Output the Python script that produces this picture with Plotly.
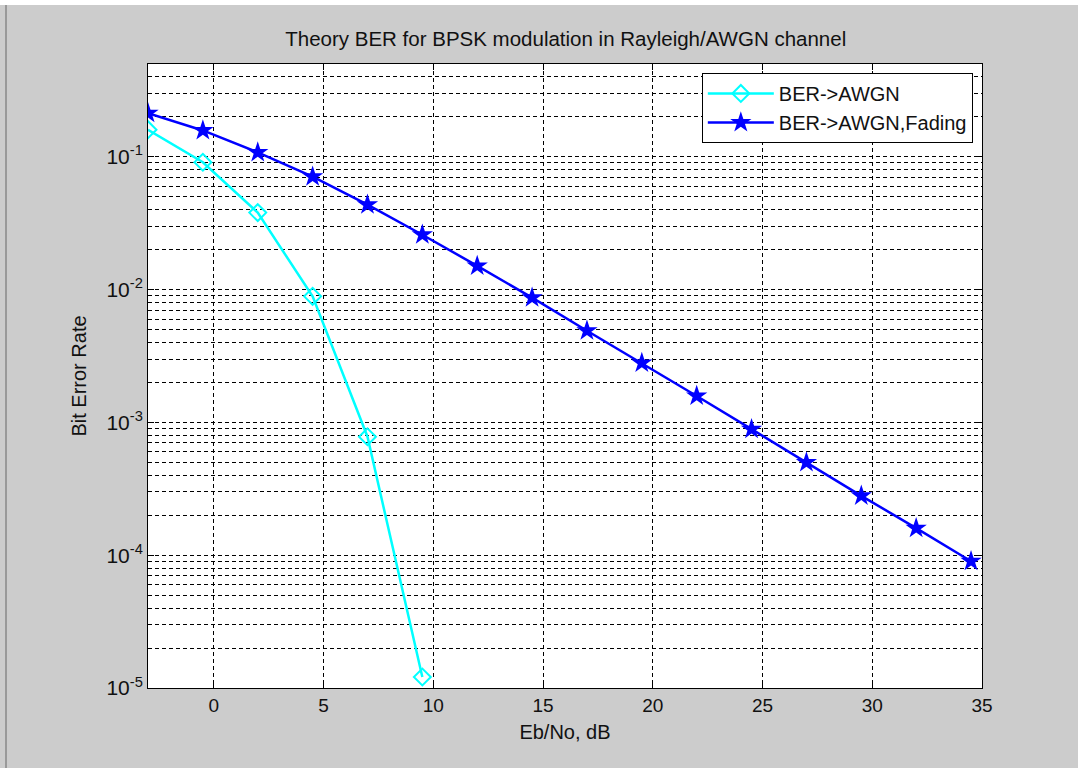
import plotly.graph_objects as go
import numpy as np

# Data
ebno_awgn = [-3, -0.5, 2, 4.5, 7, 9.5]
ber_awgn = [0.16, 0.091, 0.038, 0.0089, 0.00078, 0.0000121]

ebno_fading = [-3, -0.5, 2, 4.5, 7, 9.5, 12, 14.5, 17, 19.5, 22, 24.5, 27, 29.5, 32, 34.5]
ber_fading = [0.213, 0.158, 0.108, 0.0708, 0.0436, 0.0259, 0.0151, 0.0087, 0.0049,
              0.0028, 0.00158, 0.00089, 0.0005, 0.00028, 0.00016, 0.00009]

series_names = ["BER->AWGN", "BER->AWGN,Fading"]
title_text = "Theory BER for BPSK modulation in Rayleigh/AWGN channel"
x_title = "Eb/No, dB"
y_title = "Bit Error Rate"
x_ticks = [0, 5, 10, 15, 20, 25, 30, 35]
y_tick_vals = [1e-5, 1e-4, 1e-3, 1e-2, 1e-1]
y_tick_exps = ["-5", "-4", "-3", "-2", "-1"]
y_tick_text = ["10<sup>%s</sup>" % e for e in y_tick_exps]

fig = go.Figure()
fig.add_trace(go.Scatter(
    x=ebno_awgn, y=ber_awgn, mode="lines+markers", name=series_names[0],
    line=dict(color="#00FFFF", width=2.5),
    marker=dict(symbol="diamond-open", size=13, color="#00FFFF", line=dict(width=2, color="#00FFFF")),
))
fig.add_trace(go.Scatter(
    x=ebno_fading, y=ber_fading, mode="lines+markers", name=series_names[1],
    line=dict(color="#0000FF", width=2.5),
    marker=dict(symbol="star", size=16, color="#0000FF", line=dict(width=0)),
))

fig.update_layout(
    width=1078, height=768,
    paper_bgcolor="#cccccc", plot_bgcolor="white",
    margin=dict(l=148, r=96, t=64, b=80),
    font=dict(family="Arial, Liberation Sans", color="#111", size=19),
    title=dict(text=title_text, x=0.5248, xanchor="center", y=1 - 39 / 768, yanchor="middle",
               font=dict(family="Arial, Liberation Sans", size=20.5, color="#111")),
    showlegend=True,
    legend=dict(x=0.989, y=0.9856, xanchor="right", yanchor="top",
                bgcolor="white", bordercolor="black", borderwidth=1,
                font=dict(size=20, color="#111"), itemwidth=66, tracegroupgap=0),
    xaxis=dict(
        range=[-3, 35], tickvals=x_ticks, ticks="inside", ticklen=6, tickcolor="black",
        showline=True, linecolor="black", linewidth=1, mirror="ticks",
        showgrid=True, gridcolor="black", griddash="4px,3px", gridwidth=1,
        zeroline=False, title=dict(text=x_title, standoff=10, font=dict(size=20)),
        tickfont=dict(size=19),
    ),
    yaxis=dict(
        type="log", range=[-5, np.log10(0.5)], tickvals=y_tick_vals, ticktext=y_tick_text,
        ticks="inside", ticklen=6, tickcolor="black",
        showline=True, linecolor="black", linewidth=1, mirror="ticks",
        showgrid=True, gridcolor="black", griddash="4px,3px", gridwidth=1,
        minor=dict(dtick="D1", showgrid=True, gridcolor="black", griddash="4px,3px", gridwidth=1,
                   ticks=""),
        zeroline=False, title=dict(text=y_title, standoff=14, font=dict(size=20)),
        tickfont=dict(size=21),
    ),
)

# window frame artifacts of the screenshot
fig.add_shape(type="line", xref="paper", yref="paper",
              x0=(6 - 148) / 834, x1=(6 - 148) / 834, y0=-80 / 624, y1=(768 - 80 - 5) / 624,
              line=dict(color="#888888", width=1.5))
fig.add_shape(type="rect", xref="paper", yref="paper",
              x0=-148 / 834, x1=(1078 - 148) / 834, y0=(768 - 80 - 5) / 624, y1=(768 - 80) / 624,
              fillcolor="white", line=dict(width=0))

fig.write_html("out.html")
